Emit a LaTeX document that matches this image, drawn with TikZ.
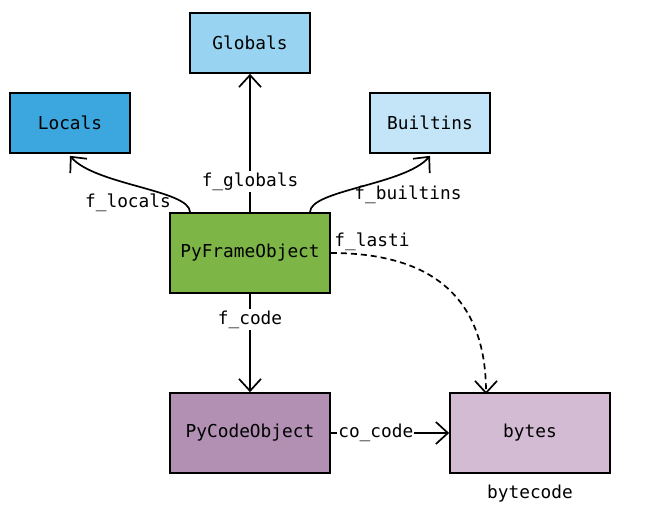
\documentclass[tikz,border=0pt]{standalone}
\usepackage{fontspec}
\setmonofont{DejaVu Sans Mono}
\usetikzlibrary{arrows.meta}
\definecolor{cGlobals}{HTML}{99D3F2}
\definecolor{cLocals}{HTML}{3CA7DE}
\definecolor{cBuiltins}{HTML}{C3E5F7}
\definecolor{cFrame}{HTML}{7DB646}
\definecolor{cCode}{HTML}{B290B4}
\definecolor{cBytes}{HTML}{D3BBD3}
\tikzset{
  every node/.style={font=\fontsize{17.8}{20}\selectfont\ttfamily},
  box/.style={draw=black, line width=1.7pt, minimum width=120pt, minimum height=60pt, inner sep=0pt},
  wbox/.style={box, minimum width=160pt, minimum height=80pt},
  conn/.style={line width=1.7pt, -{Straight Barb[length=12pt,width=22pt,line width=1.7pt]}},
  lab/.style={fill=white, inner sep=1.5pt},
  plainlab/.style={inner sep=0pt},
}
\begin{document}
\begin{tikzpicture}[x=1pt,y=-1pt]
\useasboundingbox (0,0) rectangle (658,511);
\node[box, fill=cGlobals] (glob) at (250,43) {Globals};
\node[box, fill=cLocals] (loc) at (70,123) {Locals};
\node[box, fill=cBuiltins] (built) at (430,123) {Builtins};
\node[wbox, fill=cFrame] (frame) at (250,253) {PyFrameObject};
\node[wbox, fill=cCode] (code) at (250,433) {PyCodeObject};
\node[wbox, fill=cBytes] (bytes) at (530,433) {bytes};
\node[plainlab] (bc) at (530,494) {bytecode};
\coordinate (flA) at ([xshift=-60pt]frame.north);
\coordinate (fbA) at ([xshift=60pt]frame.north);
\coordinate (locT) at ([yshift=-2pt]loc.south);
\coordinate (builtT) at ([yshift=-2pt]built.south);
\coordinate (bytesT) at ([xshift=-44pt,yshift=-2pt]bytes.north);
\draw[conn] (frame.north) -- (glob.south) node[lab, pos=0.22] {f\_globals};
\draw[conn] (flA) .. controls (190,190) and (95,185) .. (locT);
\node[plainlab] (fl) at (128,203) {f\_locals};
\draw[conn] (fbA) .. controls (310,190) and (405,185) .. (builtT);
\node[plainlab] (fb) at (408,195) {f\_builtins};
\draw[conn, dashed, dash pattern=on 6pt off 4pt] (frame.east) .. controls (440,253) and (486,305) .. (bytesT);
\node[plainlab] (fla) at (372,242) {f\_lasti};
\draw[conn] (frame.south) -- (code.north) node[lab, pos=0.26] {f\_code};
\draw[conn] (code.east) -- (bytes.west) node[lab, pos=0.38, inner sep=1pt] {co\_code};
\end{tikzpicture}
\end{document}
